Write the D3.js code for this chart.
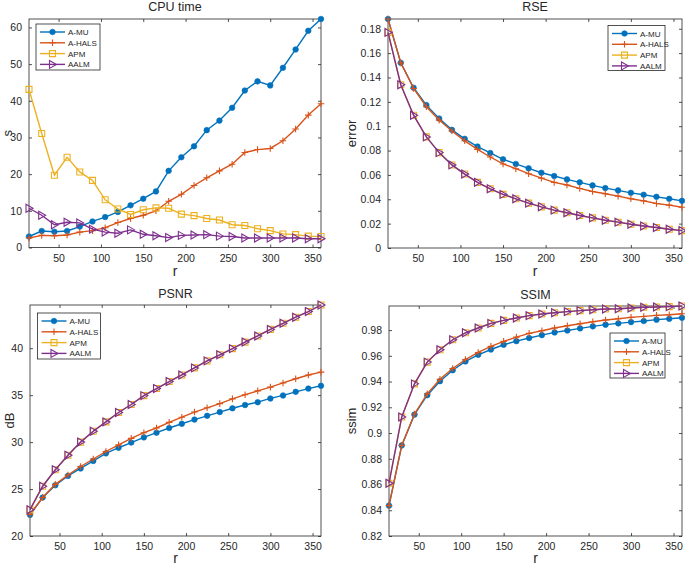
<!DOCTYPE html>
<html><head><meta charset="utf-8">
<script src="https://cdn.jsdelivr.net/npm/d3@7"></script>
<style>body{margin:0;background:#fff}svg{display:block}text{font-family:"Liberation Sans",Arial,sans-serif;fill:#262626}</style>
</head><body>
<svg id="c" width="685" height="568"></svg>
<script>
const rValues = [15,30,45,60,75,90,105,120,135,150,165,180,195,210,225,240,255,270,285,300,315,330,345,360];
const seriesNames = ["A-MU","A-HALS","APM","AALM"];
const xTicks = [50,100,150,200,250,300,350];

const cpuAMU   = [3.0,4.5,4.3,4.5,5.7,7.1,8.3,9.7,11.5,13.3,15.3,20.9,24.6,27.6,32.0,34.6,38.1,42.8,45.3,44.2,49.0,54.0,59.1,62.3];
const cpuAHALS = [2.6,3.3,3.2,3.4,4.2,4.6,5.4,6.8,7.9,8.8,10.0,12.6,14.5,16.9,19.0,20.9,22.7,25.9,26.7,27.0,29.1,32.3,36.1,39.2];
const cpuAPM   = [43.1,31.1,19.7,24.6,20.6,18.3,13.0,10.5,9.0,10.3,10.8,10.7,9.1,8.7,7.9,7.5,6.2,6.0,5.1,4.6,3.7,3.5,3.1,3.0];
const cpuAALM  = [10.7,8.8,6.2,6.9,6.7,5.0,4.2,3.9,4.8,3.6,3.2,2.7,3.3,3.4,3.5,3.1,3.0,2.6,2.6,2.6,2.6,2.6,2.4,2.4];
const cpuTicks = [0,10,20,30,40,50,60];

const rseAMU   = [0.188,0.152,0.1316,0.1173,0.1063,0.097,0.0896,0.0833,0.078,0.0728,0.069,0.0654,0.0618,0.0591,0.0563,0.0539,0.0514,0.0492,0.0473,0.0453,0.0437,0.042,0.0404,0.0387];
const rseAHALS = [0.188,0.152,0.131,0.116,0.105,0.096,0.088,0.081,0.0747,0.069,0.0651,0.061,0.0574,0.0539,0.0517,0.0489,0.0464,0.0445,0.0426,0.0404,0.0387,0.0365,0.0352,0.0335];
const rseAPM   = [0.177,0.134,0.109,0.0912,0.0783,0.0682,0.0607,0.0539,0.0486,0.044,0.0404,0.0368,0.0338,0.0311,0.0289,0.0267,0.0247,0.0228,0.0212,0.0195,0.0181,0.0168,0.0154,0.0143];
const rseAALM  = [0.177,0.134,0.109,0.0912,0.0783,0.0682,0.0607,0.0539,0.0486,0.044,0.0404,0.0368,0.0338,0.0311,0.0289,0.0267,0.0247,0.0228,0.0212,0.0195,0.0181,0.0168,0.0154,0.0143];
const rseTicks = [0,0.02,0.04,0.06,0.08,0.1,0.12,0.14,0.16,0.18];

const psnrAMU   = [22.25,24.1,25.4,26.4,27.2,28.0,28.8,29.4,29.95,30.5,31.0,31.5,31.95,32.4,32.8,33.2,33.6,33.95,34.25,34.65,34.97,35.35,35.7,36.0];
const psnrAHALS = [22.3,24.1,25.5,26.5,27.4,28.2,29.0,29.7,30.4,31.0,31.5,32.1,32.65,33.2,33.65,34.1,34.6,35.05,35.45,35.85,36.3,36.75,37.15,37.45];
const psnrAPM   = [22.8,25.3,27.05,28.6,30.0,31.15,32.15,33.15,34.0,34.95,35.7,36.45,37.15,37.9,38.65,39.3,39.95,40.65,41.3,42.0,42.65,43.3,43.9,44.6];
const psnrAALM  = [22.8,25.3,27.05,28.6,30.0,31.15,32.15,33.15,34.0,34.95,35.7,36.45,37.15,37.9,38.65,39.3,39.95,40.65,41.3,42.0,42.65,43.3,43.9,44.6];
const psnrTicks = [20,25,30,35,40];

const ssimAMU   = [0.8436,0.8904,0.9143,0.9294,0.9403,0.9488,0.9556,0.9608,0.9649,0.9686,0.9714,0.9738,0.9761,0.9782,0.9797,0.9813,0.9829,0.9842,0.9852,0.9862,0.987,0.9881,0.9888,0.9896];
const ssimAHALS = [0.8436,0.8904,0.9148,0.9304,0.9418,0.9501,0.9571,0.9626,0.9673,0.9712,0.9745,0.9774,0.9795,0.9816,0.9834,0.9849,0.9865,0.9878,0.9888,0.9899,0.9906,0.9914,0.9919,0.9927];
const ssimAPM   = [0.861,0.9125,0.9382,0.9551,0.9647,0.9725,0.9779,0.9816,0.9852,0.9875,0.9894,0.9912,0.9925,0.9935,0.9943,0.9951,0.9958,0.9964,0.9966,0.9971,0.9977,0.9979,0.9982,0.9987];
const ssimAALM  = [0.861,0.9125,0.9382,0.9551,0.9647,0.9725,0.9779,0.9816,0.9852,0.9875,0.9894,0.9912,0.9925,0.9935,0.9943,0.9951,0.9958,0.9964,0.9966,0.9971,0.9977,0.9979,0.9982,0.9987];
const ssimTicks = [0.82,0.84,0.86,0.88,0.9,0.92,0.94,0.96,0.98];

const colors = ["#0072BD","#D95319","#EDB120","#7E2F8E"];
const svg = d3.select("#c");
const frameColor = "#262626";

function markerPath(kind, s){
  if(kind===0) return null;
  if(kind===1) return `M${-s},0H${s}M0,${-s}V${s}`;
  if(kind===2) return `M${-s},${-s}H${s}V${s}H${-s}Z`;
  return `M${-s*0.75},${-s}L${s},0L${-s*0.75},${s}Z`;
}
function drawMarker(g, kind, x, y, color){
  if(kind===0){
    g.append("circle").attr("cx",x).attr("cy",y).attr("r",2.8).attr("fill",color).attr("stroke",color).attr("stroke-width",0.6);
  } else {
    const s = kind===1?3.3:(kind===2?3.0:4.0);
    g.append("path").attr("transform",`translate(${x},${y})`).attr("d",markerPath(kind,s))
      .attr("fill","none").attr("stroke",color).attr("stroke-width",kind===1?1.1:1.1);
  }
}

function panel(cfg){
  const {left,right,top,bottom,yDomain,yTicks,series,title,ylabel,legend,titleY,xlabelY} = cfg;
  const x = d3.scaleLinear().domain([15,360]).range([left,right]);
  const y = d3.scaleLinear().domain(yDomain).range([bottom,top]);
  const g = svg.append("g");
  const fmt = v => String(+v.toFixed(3));
  // axes with inward ticks
  const tl = 3;
  const xa = d3.axisBottom(x).tickValues(xTicks).tickSizeInner(-tl).tickSizeOuter(0).tickPadding(7).tickFormat(d3.format("d"));
  const ya = d3.axisLeft(y).tickValues(yTicks).tickSizeInner(-tl).tickSizeOuter(0).tickPadding(7).tickFormat(fmt);
  const gx = g.append("g").attr("transform",`translate(0,${bottom})`).call(xa);
  const gy = g.append("g").attr("transform",`translate(${left},0)`).call(ya);
  // top and right ticks
  const xt = d3.axisTop(x).tickValues(xTicks).tickSizeInner(-tl).tickSizeOuter(0).tickFormat("");
  const yr = d3.axisRight(y).tickValues(yTicks).tickSizeInner(-tl).tickSizeOuter(0).tickFormat("");
  const gxt = g.append("g").attr("transform",`translate(0,${top})`).call(xt);
  const gyr = g.append("g").attr("transform",`translate(${right},0)`).call(yr);
  [gx,gy,gxt,gyr].forEach(a=>{
    a.select(".domain").remove();
    a.selectAll("line").attr("stroke",frameColor).attr("stroke-width",0.8);
    a.selectAll("text").style("font-size","10.5px").attr("fill","#262626");
  });
  g.append("rect").attr("x",left).attr("y",top).attr("width",right-left).attr("height",bottom-top)
    .attr("fill","none").attr("stroke",frameColor).attr("stroke-width",0.8);
  // series
  const line = d3.line().x((d,i)=>x(rValues[i])).y(d=>y(d));
  series.forEach((vals,k)=>{
    const sg = g.append("g");
    sg.append("path").attr("d",line(vals)).attr("fill","none").attr("stroke",colors[k]).attr("stroke-width",1.4);
    vals.forEach((v,i)=>drawMarker(sg,k,x(rValues[i]),y(v),colors[k]));
  });
  // title & labels
  g.append("text").attr("x",(left+right)/2).attr("y",titleY).attr("text-anchor","middle").style("font-size","12.5px").text(title);
  g.append("text").attr("x",(left+right)/2).attr("y",xlabelY).attr("text-anchor","middle").style("font-size","14px").text("r");
  g.append("text").attr("transform",`translate(${cfg.ylabelX},${(top+bottom)/2}) rotate(-90)`).attr("text-anchor","middle").style("font-size","13px").text(ylabel);
  // legend
  const L = legend;
  const lg = g.append("g");
  lg.append("rect").attr("x",L.x).attr("y",L.y).attr("width",L.w).attr("height",L.h).attr("fill","#fff").attr("stroke",frameColor).attr("stroke-width",0.8);
  seriesNames.forEach((n,k)=>{
    const yy = L.y + 8 + k*10.8;
    lg.append("line").attr("x1",L.x+4).attr("x2",L.x+29).attr("y1",yy).attr("y2",yy).attr("stroke",colors[k]).attr("stroke-width",1.4);
    drawMarker(lg,k,L.x+16.5,yy,colors[k]);
    lg.append("text").attr("x",L.x+32).attr("y",yy+3).style("font-size","8px").text(n);
  });
}

panel({left:29,right:321,top:19,bottom:247.5,yDomain:[0,62.3],yTicks:cpuTicks,
  series:[cpuAMU,cpuAHALS,cpuAPM,cpuAALM],title:"CPU time",ylabel:"s",ylabelX:12,titleY:11,xlabelY:276,
  legend:{x:36,y:24,w:64,h:46}});
panel({left:388,right:682,top:19,bottom:248,yDomain:[0,0.188],yTicks:rseTicks,
  series:[rseAMU,rseAHALS,rseAPM,rseAALM],title:"RSE",ylabel:"error",ylabelX:356,titleY:11,xlabelY:276,
  legend:{x:608,y:25.5,w:57,h:45}});
panel({left:30,right:321,top:305,bottom:536,yDomain:[20,44.6],yTicks:psnrTicks,
  series:[psnrAMU,psnrAHALS,psnrAPM,psnrAALM],title:"PSNR",ylabel:"dB",ylabelX:14,titleY:298,xlabelY:563,
  legend:{x:37.5,y:313,w:63,h:46}});
panel({left:389,right:682,top:306,bottom:536,yDomain:[0.82,0.9987],yTicks:ssimTicks,
  series:[ssimAMU,ssimAHALS,ssimAPM,ssimAALM],title:"SSIM",ylabel:"ssim",ylabelX:356,titleY:299,xlabelY:563,
  legend:{x:610,y:333,w:55,h:45}});
</script>
</body></html>
